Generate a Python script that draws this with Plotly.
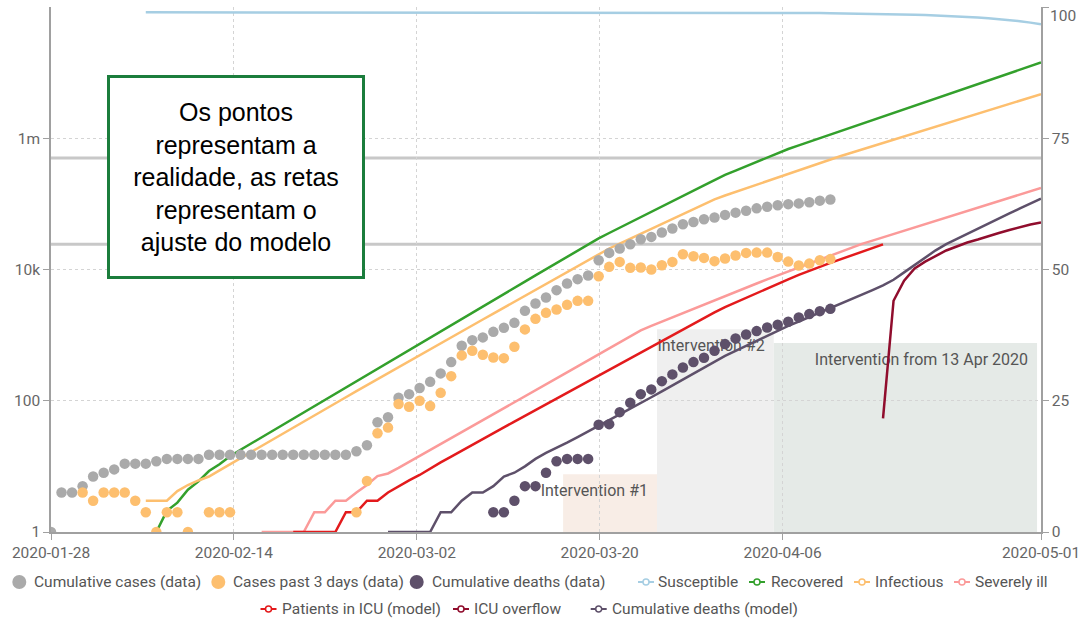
import pandas as pd
import plotly.graph_objects as go

# ---------------- canvas / plot-area geometry ----------------
W, H = 1082, 619
M_L, M_R, M_T, M_B = 51, 41, 7, 87
PLOT_W = W - M_L - M_R
PLOT_H = H - M_T - M_B
FONT = "Roboto"

# ---------------- observed data (daily) ----------------
obs_start = "2020-01-28"
cumulative_cases = [
    1, 4, 4, 5, 7, 8, 9, 11, 11, 11, 12, 13, 13, 13, 13,
    15, 15, 15, 15, 15, 15, 15, 15, 15, 15, 15, 15, 15, 15,
    17, 21, 47, 56, 111, 126, 156, 194, 261, 388,
    687, 839, 923, 1122, 1292, 1539, 2344, 3038, 3750, 4843,
    6124, 7126, 8112, 13870, 17900, 20900, 24300, 28970, 31400, 36650,
    42150, 49000, 53100, 58400, 61900, 67900, 73500, 78700, 85400, 90500,
    95400, 99000, 101700, 106000, 112000, 116500,
]
cases_past_3_days = [
    None, None, None,
    4, 3, 4, 4, 4, 3, 2, 1, 2, 2, 1, None, 2, 2, 2,
    None, None, None, None, None, None, None, None, None, None, None,
    2, 6, 32, 39, 89, 81, 100, 83, 132, 237,
    491, 577, 501, 457, 446, 664, 1222, 1771, 2184, 2460,
    2893, 3327, 3327, 7910, 10970, 13060, 10600, 10720, 10000, 11640,
    13060, 17100, 15950, 15030, 13400, 14700, 16300, 17900, 18100, 18100,
    15500, 13200, 11500, 12300, 13800, 14400,
]
deaths_start = "2020-03-10"
cumulative_deaths = [
    2, 2, 3, 5, 5, 8, 12, 13, 13, 13, 43, 44, 67, 93, 126, 149, 199,
    252, 322, 388, 452, 577, 730, 891, 1025, 1151, 1310, 1436, 1596,
    1862, 2090, 2318, 2513,
]

# ---------------- model output (daily, from each start date) ----------------
susceptible_start = "2020-02-06"
susceptible = [
    8.30e7, 8.30e7, 8.30e7, 8.30e7, 8.30e7, 8.30e7, 8.30e7, 8.30e7, 8.30e7, 8.30e7,
    8.30e7, 8.30e7, 8.30e7, 8.30e7, 8.30e7, 8.30e7, 8.30e7, 8.30e7, 8.30e7, 8.30e7,
    8.30e7, 8.30e7, 8.30e7, 8.30e7, 8.30e7, 8.30e7, 8.30e7, 8.30e7, 8.30e7, 8.30e7,
    8.30e7, 8.30e7, 8.30e7, 8.30e7, 8.30e7, 8.30e7, 8.30e7, 8.30e7, 8.30e7, 8.30e7,
    8.30e7, 8.30e7, 8.30e7, 8.30e7, 8.29e7, 8.29e7, 8.29e7, 8.29e7, 8.28e7, 8.28e7,
    8.28e7, 8.27e7, 8.27e7, 8.26e7, 8.26e7, 8.25e7, 8.23e7, 8.22e7, 8.21e7, 8.19e7,
    8.17e7, 8.15e7, 8.13e7, 8.11e7, 8.09e7, 8.06e7, 8.03e7, 7.99e7, 7.95e7, 7.90e7,
    7.85e7, 7.79e7, 7.72e7, 7.65e7, 7.57e7, 7.47e7, 7.36e7, 7.24e7, 7.10e7, 6.94e7,
    6.76e7, 6.56e7, 6.34e7, 6.08e7, 5.78e7, 5.45e7,
]
recovered_start = "2020-02-07"
recovered = [
    1.0, 2.1, 2.8, 4.4, 5.9, 8.5, 10.8, 14.3, 17.9, 22.3,
    27.7, 34.5, 43, 53.6, 66.8, 83.2, 104, 129, 161, 200,
    250, 311, 387, 481, 598, 743, 924, 1150, 1430, 1770,
    2200, 2740, 3400, 4230, 5260, 6530, 8120, 10100, 12500, 15600,
    19400, 24100, 29800, 36000, 43500, 52500, 63400, 76400, 91800, 110000,
    133000, 160000, 192000, 231000, 277000, 322000, 375000, 436000, 507000, 589000,
    685000, 778000, 883000, 1.0e6, 1.14e6, 1.29e6, 1.47e6, 1.66e6, 1.89e6, 2.14e6,
    2.43e6, 2.76e6, 3.13e6, 3.56e6, 4.04e6, 4.58e6, 5.2e6, 5.9e6, 6.7e6, 7.6e6,
    8.63e6, 9.8e6, 11.1e6, 12.6e6, 14.3e6,
]
infectious_start = "2020-02-06"
infectious = [
    3, 3, 3, 4.2, 5.2, 6.1, 7.0, 8.7, 10.8, 13.4,
    16.5, 20.5, 25.3, 31.4, 38.8, 48.1, 59.5, 73.7, 91.2, 113,
    140, 173, 214, 265, 326, 402, 495, 610, 751, 925,
    1140, 1405, 1730, 2130, 2625, 3235, 3990, 4910, 6050, 7450,
    9180, 11300, 13900, 17200, 20900, 24800, 29400, 34800, 41200, 48800,
    57800, 68400, 81100, 95900, 117000, 134000, 152000, 173000, 196000, 223000,
    254000, 289000, 328000, 373000, 424000, 482000, 537000, 602000, 675000, 757000,
    848000, 951000, 1.06e6, 1.19e6, 1.34e6, 1.5e6, 1.68e6, 1.88e6, 2.11e6, 2.37e6,
    2.65e6, 2.97e6, 3.33e6, 3.73e6, 4.18e6, 4.69e6,
]
severe_start = "2020-02-17"
severely_ill = [
    1, 1, 1, 1, 1, 2, 2, 3, 3, 4,
    5.2, 7.1, 7.8, 9.5, 11.7, 14.3, 17.5, 21.6, 26.6, 32.9,
    40.6, 50.1, 61.9, 76.4, 94.4, 116, 144, 177, 219, 270,
    334, 412, 509, 628, 776, 957, 1183, 1385, 1610, 1870,
    2175, 2530, 2940, 3415, 3970, 4645, 5320, 6125, 7060, 8130,
    9375, 10800, 12400, 14300, 16500, 19000, 21900, 24600, 27600, 31000,
    34800, 39000, 43800, 49100, 55200, 61900, 69500, 78000, 87500, 98200,
    110000, 124000, 139000, 156000, 175000,
]
icu_start = "2020-02-20"
patients_icu = [
    1, 1, 1, 1, 1, 2, 2, 3, 3, 4,
    5.0, 6.1, 7.4, 9.3, 11.5, 14.1, 17.4, 21.4, 26.2, 32.1,
    39.3, 48.1, 58.9, 72.1, 88.3, 108, 132, 162, 199, 243,
    302, 370, 453, 553, 678, 830, 1016, 1242, 1507, 1828,
    2218, 2680, 3162, 3724, 4395, 5165, 6040, 7063, 8260, 9640,
    10970, 12590, 14420, 16440, 18710, 21300, 24200,
]
overflow_start = "2020-04-16"
icu_overflow = [
    54, 3340, 6760, 10400, 13200, 16100, 19500, 22400,
    25800, 28600, 32400, 36000, 40000, 44400, 48500, 52000,
]
deaths_model_start = "2020-02-29"
deaths_model = [
    1, 1, 1, 1, 1, 2, 2, 3, 4, 4,
    5, 7, 8, 10, 13, 16, 19, 23, 28, 34,
    41, 51, 62, 76, 92, 113, 139, 171, 210, 259,
    319, 394, 482, 575, 687, 820, 980, 1172, 1383, 1614,
    1884, 2198, 2565, 2992, 3490, 4120, 4860, 5740, 6980, 9040,
    11700, 15100, 19600, 24300, 29200, 35100, 42200, 50700, 60300, 71600,
    85100, 101000, 120000,
]

# capacity reference levels
hospital_beds = 500000
icu_beds = 24200

# interventions: (start, end, strength in %, label)
interventions = [
    ("2020-03-16 15:00", "2020-03-25 13:00", 11, "Intervention #1"),
    ("2020-03-25 13:00", "2020-04-05 15:00", 38.6, "Intervention #2"),
    ("2020-04-05 15:00", "2020-04-30 15:00", 36, "Intervention from 13 Apr 2020"),
]
intervention_fills = ["#f8ede6", "#efefef", "#e5eae7"]

# axis ticks
x_tick_values = ["2020-01-28", "2020-02-14 08:47", "2020-03-02 17:31",
                 "2020-03-20 02:22", "2020-04-06 11:03", "2020-05-01"]
x_tick_labels = ["2020-01-28", "2020-02-14", "2020-03-02",
                 "2020-03-20", "2020-04-06", "2020-05-01"]
y_tick_values = [1, 100, 1e4, 1e6]
y_tick_labels = ["1", "100", "10k", "1m"]
y2_tick_values = [0, 25, 50, 75, 100]
y2_tick_labels = ["0", "25", "50", "75", "100"]

# colours
C_CASES = "#aaaaaa"
C_NEW = "#fdbf6f"
C_DEATHS = "#5e506a"
C_SUSC = "#a6cee3"
C_REC = "#33a02c"
C_INF = "#fdbf6f"
C_SEV = "#fb9a99"
C_ICU = "#e31a1c"
C_OVER = "#900d2d"
C_DMOD = "#5e506a"
TICK_GREY = "#666666"
TICK_SIZE = 15.5
LEGEND_SIZE = 15.5


def days(start, n):
    return pd.date_range(start, periods=n, freq="D")


fig = go.Figure()

model_series = [
    (susceptible_start, susceptible, C_SUSC, "Susceptible"),
    (recovered_start, recovered, C_REC, "Recovered"),
    (infectious_start, infectious, C_INF, "Infectious"),
    (severe_start, severely_ill, C_SEV, "Severely ill"),
    (icu_start, patients_icu, C_ICU, "Patients in ICU (model)"),
    (overflow_start, icu_overflow, C_OVER, "ICU overflow"),
    (deaths_model_start, deaths_model, C_DMOD, "Cumulative deaths (model)"),
]
for start, vals, col, name in model_series:
    fig.add_trace(go.Scatter(
        x=days(start, len(vals)), y=vals, name=name, mode="lines",
        line=dict(color=col, width=2.5), showlegend=False,
    ))

obs_series = [
    (obs_start, cumulative_cases, C_CASES, "Cumulative cases (data)"),
    (obs_start, cases_past_3_days, C_NEW, "Cases past 3 days (data)"),
    (deaths_start, cumulative_deaths, C_DEATHS, "Cumulative deaths (data)"),
]
for start, vals, col, name in obs_series:
    fig.add_trace(go.Scatter(
        x=days(start, len(vals)), y=vals, name=name, mode="markers",
        marker=dict(color=col, size=10.5, line=dict(width=0)), showlegend=False,
    ))

shapes = []
# intervention areas with their labels
for (x0, x1, strength, label), fill in zip(interventions, intervention_fills):
    shapes.append(dict(
        type="rect", xref="x", yref="y2", x0=x0, x1=x1, y0=0, y1=strength,
        fillcolor=fill, line=dict(width=0), layer="below",
        label=dict(text=label, textposition="top right", padding=6,
                   font=dict(family=FONT, size=16, color="#555555")),
    ))
# capacity lines
for level in (hospital_beds, icu_beds):
    shapes.append(dict(
        type="line", xref="paper", x0=0, x1=1, yref="y", y0=level, y1=level,
        line=dict(color="#c8c8c8", width=3), layer="between",
    ))


# ---------------- legend drawn in the bottom margin ----------------
def px_x(X):
    return (X - M_L) / PLOT_W


def px_y(Y):
    return (M_T + PLOT_H - Y) / PLOT_H


legend_rows = [
    (582.0, [("Cumulative cases (data)", "dot", C_CASES, 19.3, 33),
             ("Cases past 3 days (data)", "dot", C_NEW, 218.3, 232),
             ("Cumulative deaths (data)", "dot", C_DEATHS, 416.7, 431),
             ("Susceptible", "line", C_SUSC, 646, 657),
             ("Recovered", "line", C_REC, 757, 770),
             ("Infectious", "line", C_INF, 862, 874),
             ("Severely ill", "line", C_SEV, 962, 974)]),
    (609.0, [("Patients in ICU (model)", "line", C_ICU, 268.5, 281),
             ("ICU overflow", "line", C_OVER, 461, 473),
             ("Cumulative deaths (model)", "line", C_DMOD, 598.7, 611)]),
]
annotations = []
for row_y, items in legend_rows:
    py = px_y(row_y)
    for text, kind, col, icon_x, text_x in items:
        px = px_x(icon_x)
        if kind == "dot":
            shapes.append(dict(type="circle", xref="paper", yref="paper",
                               xsizemode="pixel", ysizemode="pixel",
                               xanchor=px, yanchor=py, x0=-7, x1=7, y0=-7, y1=7,
                               fillcolor=col, line=dict(width=0), layer="above"))
        else:
            shapes.append(dict(type="line", xref="paper", yref="paper",
                               xsizemode="pixel", ysizemode="pixel",
                               xanchor=px, yanchor=py, x0=-8, x1=8, y0=0, y1=0,
                               line=dict(color=col, width=2), layer="above"))
            shapes.append(dict(type="circle", xref="paper", yref="paper",
                               xsizemode="pixel", ysizemode="pixel",
                               xanchor=px, yanchor=py, x0=-3, x1=3, y0=-3, y1=3,
                               fillcolor="white", line=dict(color=col, width=1.5),
                               layer="above"))
        annotations.append(dict(
            text=text, xref="paper", yref="paper", x=px_x(text_x), y=py,
            xanchor="left", yanchor="middle", showarrow=False, borderpad=0,
            font=dict(family=FONT, size=LEGEND_SIZE, color="#555555"),
        ))

# top label of the right axis sits just under its tick
annotations.append(dict(
    text=y2_tick_labels[-1], xref="paper", yref="paper",
    x=px_x(1049), y=px_y(16.5), xanchor="left", yanchor="middle",
    showarrow=False, borderpad=0,
    font=dict(family=FONT, size=TICK_SIZE, color=TICK_GREY),
))

# explanatory text box
annotations.append(dict(
    text="Os pontos<br>representam a<br>realidade, as retas<br>representam o<br>ajuste do modelo",
    xref="paper", yref="paper", x=px_x(236), y=px_y(177.2),
    xanchor="center", yanchor="middle", showarrow=False,
    width=250, height=196, align="center", valign="middle",
    bgcolor="white", bordercolor="#1b7d3c", borderwidth=3, borderpad=1,
    font=dict(family="Liberation Sans, Arial", size=25, color="black"),
))

axis_common = dict(
    showline=True, linecolor="#a0a0a0", linewidth=1.5,
    ticks="outside", ticklen=6, tickcolor="#a0a0a0", tickwidth=1,
    tickfont=dict(family=FONT, size=TICK_SIZE, color=TICK_GREY),
    zeroline=False, automargin=False,
)
grid = dict(gridcolor="#d4d4d4", gridwidth=1, griddash="3px,3px")

fig.update_layout(
    width=W, height=H,
    margin=dict(l=M_L, r=M_R, t=M_T, b=M_B, autoexpand=False),
    paper_bgcolor="white", plot_bgcolor="white",
    showlegend=False,
    xaxis=dict(type="date", range=["2020-01-28", "2020-05-01"],
               tickmode="array", tickvals=x_tick_values, ticktext=x_tick_labels,
               showgrid=True, **grid, **axis_common),
    yaxis=dict(type="log", range=[0, 8], tickmode="array",
               tickvals=y_tick_values, ticktext=y_tick_labels,
               showgrid=False, **axis_common),
    yaxis2=dict(overlaying="y", side="right", range=[0, 100],
                tickmode="array", tickvals=y2_tick_values,
                ticktext=y2_tick_labels[:-1] + [""],
                showgrid=True, **grid, **axis_common),
    shapes=shapes,
    annotations=annotations,
)

fig.write_html("out.html")
